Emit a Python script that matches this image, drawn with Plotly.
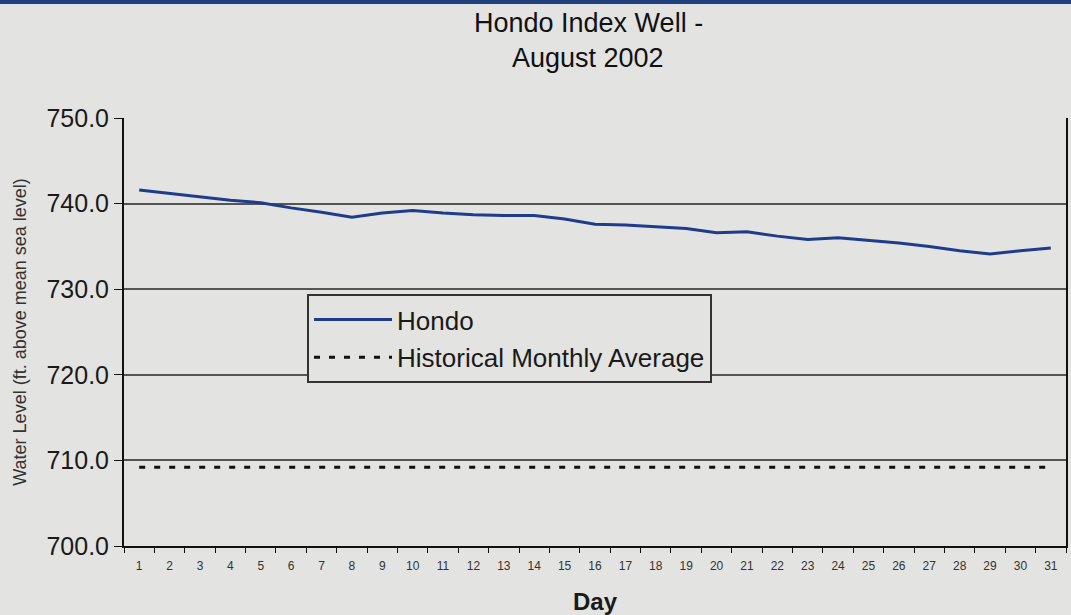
import plotly.graph_objects as go

# Daily water level readings, August 2002
days = [str(d) for d in range(1, 32)]
hondo = [741.6, 741.2, 740.8, 740.4, 740.1, 739.5, 739.0, 738.4, 738.9, 739.2,
         738.9, 738.7, 738.6, 738.6, 738.2, 737.6, 737.5, 737.3, 737.1, 736.6,
         736.7, 736.2, 735.8, 736.0, 735.7, 735.4, 735.0, 734.5, 734.1, 734.5,
         734.8]
historical_avg = [709.2] * 31

y_ticks = [700, 710, 720, 730, 740, 750]

FONT = "Liberation Sans, Arial, sans-serif"
BG = '#e3e3e1'

# plot area in pixels
L, R, T, B = 124, 5, 118, 69
W, H = 1071, 615
plot_w = W - L - R
plot_h = H - T - B

def px_x(px):
    return (px - L) / plot_w

def px_y(py):
    return (H - B - py) / plot_h

fig = go.Figure()

fig.add_trace(go.Scatter(
    x=days, y=hondo,
    mode='lines', name='Hondo', legendgroup='a',
    line=dict(color='#1f3c8c', width=3)
))

fig.add_trace(go.Scatter(
    x=days, y=historical_avg,
    mode='lines', name='Historical Monthly Average', legendgroup='b',
    line=dict(color='#111111', width=3, dash='6px,9px')
))

fig.update_layout(
    width=W, height=H,
    margin=dict(l=L, r=R, t=T, b=B),
    paper_bgcolor=BG,
    plot_bgcolor=BG,
    font=dict(family=FONT, color='#1a1a1a'),
    showlegend=True,
    legend=dict(
        x=px_x(307), y=px_y(294), xanchor='left', yanchor='top',
        bgcolor=BG, bordercolor='#333333', borderwidth=2,
        font=dict(size=26, color='#1a1a1a'),
        itemwidth=78, tracegroupgap=1
    ),
    xaxis=dict(
        type='category', range=[-0.5, 30.5], automargin=False,
        title=dict(text='<b>Day</b>', font=dict(size=24), standoff=26),
        tickfont=dict(size=12, color='#333333'), ticklabelstandoff=8,
        showline=True, linecolor='#111111', linewidth=2,
        ticks='outside', ticklen=5, tickcolor='#111111', tickson='boundaries',
        showgrid=False, zeroline=False
    ),
    yaxis=dict(
        title=dict(text='Water Level (ft. above mean sea level)',
                   font=dict(size=18, color='#333333'), standoff=15),
        range=[700, 750], tickvals=y_ticks, tickformat='.1f', automargin=False,
        tickfont=dict(size=25, color='#1a1a1a'), ticklabelstandoff=0,
        showline=True, linecolor='#111111', linewidth=2, mirror=True,
        ticks='outside', ticklen=8, tickcolor='#111111',
        showgrid=True, gridcolor='#555555', gridwidth=1.5, zeroline=False
    ),
    annotations=[
        dict(text='Hondo Index Well -', x=px_x(588), y=px_y(23), xref='paper', yref='paper',
             xanchor='center', yanchor='middle', showarrow=False,
             font=dict(size=27, color='#111111')),
        dict(text='August 2002', x=px_x(588), y=px_y(58), xref='paper', yref='paper',
             xanchor='center', yanchor='middle', showarrow=False,
             font=dict(size=27, color='#111111')),
    ],
    shapes=[dict(type='rect', xref='paper', yref='paper',
                 x0=px_x(0), x1=px_x(W), y0=px_y(4), y1=px_y(0),
                 fillcolor='#1f3f7f', line=dict(width=0), layer='above')]
)

# drop the default page margin so the figure fills the window
fig.write_html("out.html", config={'displayModeBar': False},
               post_script="document.body.style.margin='0';")
